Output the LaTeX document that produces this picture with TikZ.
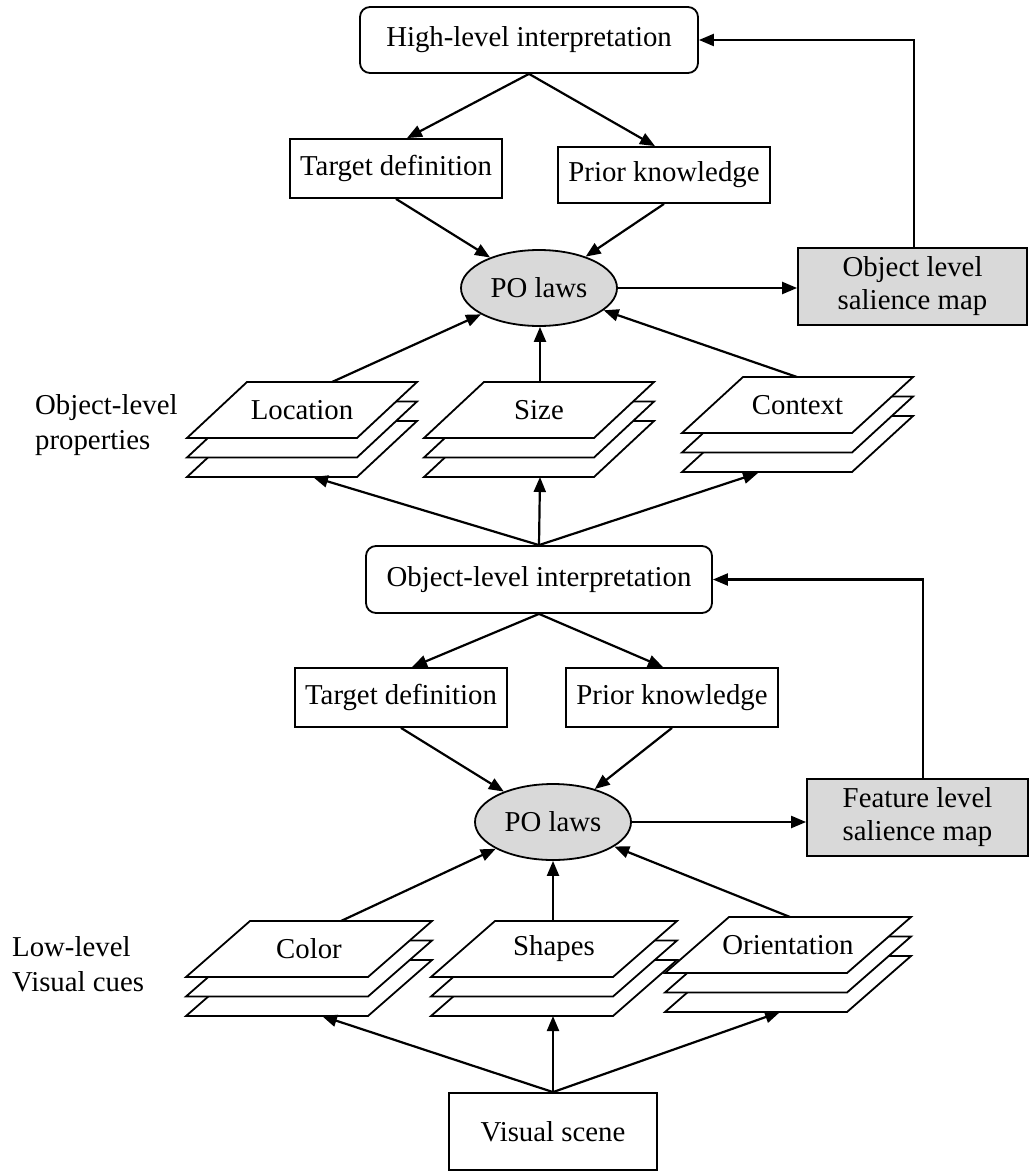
\documentclass[tikz,border=0pt]{standalone}
\usepackage{fontspec}
\setmainfont{Liberation Serif}
\usetikzlibrary{shapes.geometric,arrows.meta}
\definecolor{boxgray}{RGB}{217,217,217}

% three stacked parallelogram layers with a label on the top one
% #1 label node name, #2 left x of top edge, #3 top y, #4 edge length, #5 skew, #6 text
\newcommand\layerstack[6]{%
  \foreach \d in {39,19.5,0}
    \draw[layer] (#2,#3+\d) -- ++(#4,0) -- ++(-#5,56) -- ++(-#4,0) -- cycle;
  \node[plain] (#1) at ({#2+#4/2-#5/2},{#3+28}) {#6};
}

\begin{document}
\begin{tikzpicture}[x=1pt,y=-1pt,
  every node/.style={font=\fontsize{28.8}{33}\selectfont},
  plain/.style={inner sep=0pt},
  sqbox/.style={draw, line width=1.8pt, inner sep=0pt, align=center},
  rbox/.style={sqbox, rounded corners=10pt},
  graybox/.style={sqbox, fill=boxgray},
  law/.style={draw, ellipse, line width=1.8pt, fill=boxgray, inner sep=0pt,
    minimum width=156pt, minimum height=76pt},
  layer/.style={draw, fill=white, line width=1.8pt, line join=miter},
  arr/.style={line width=2.2pt, -{Triangle[length=15pt,width=12pt]}},
  side/.style={inner sep=0pt, align=left, anchor=west,
    font=\fontsize{28.8}{35}\selectfont}
]
\useasboundingbox (0,0) rectangle (1029,1172);

% ---------- upper level ----------
\node[rbox, minimum width=338pt, minimum height=66pt] (hi) at (529,40) {High-level interpretation};
\node[sqbox, minimum width=212pt, minimum height=59pt] (td1) at (396,168.5) {Target definition};
\node[sqbox, minimum width=212pt, minimum height=56pt] (pk1) at (664,175) {Prior knowledge};
\node[law] (po1) at (539,288) {PO laws};
\node[graybox, minimum width=229pt, minimum height=77pt] (osm) at (912.5,286.5) {Object level\\salience map};

\layerstack{loc}{247}{382}{170}{60}{Location}
\layerstack{size}{484}{382}{170}{60}{Size}
\layerstack{ctx}{743}{377}{170}{61}{Context}

\node[side] (olp) at (35,425) {Object-level\\properties};

\coordinate (loc-top) at (332,382);
\coordinate (size-top) at (540,382);
\coordinate (ctx-top) at (797,377);
\coordinate (loc-bot) at (313,477);
\coordinate (size-bot) at (540,477);
\coordinate (ctx-bot) at (758,473);

% ---------- lower level ----------
\node[rbox, minimum width=346pt, minimum height=67pt] (oli) at (539,579.5) {Object-level interpretation};
\node[sqbox, minimum width=212pt, minimum height=59pt] (td2) at (401,697.5) {Target definition};
\node[sqbox, minimum width=212pt, minimum height=59pt] (pk2) at (672,697.5) {Prior knowledge};
\node[law] (po2) at (553,822) {PO laws};
\node[graybox, minimum width=221pt, minimum height=77pt] (fsm) at (917.5,817.5) {Feature level\\salience map};

\layerstack{col}{250}{921}{182}{64}{Color}
\layerstack{shp}{495}{921}{182}{64}{Shapes}
\layerstack{ori}{729}{917}{182}{64}{Orientation}

\node[side] (llv) at (12,964) {Low-level\\Visual cues};

\node[sqbox, minimum width=208pt, minimum height=77pt] (vs) at (553,1131.5) {Visual scene};

\coordinate (col-top) at (341,921);
\coordinate (shp-top) at (553,921);
\coordinate (ori-top) at (790,917);
\coordinate (col-bot) at (322,1016);
\coordinate (shp-bot) at (553,1016);
\coordinate (ori-bot) at (780,1012);

% ---------- connectors ----------
\draw[arr] (hi.south) -- ([xshift=11pt]td1.north);
\draw[arr] (hi.south) -- ([xshift=-9pt]pk1.north);
\draw[arr] (td1.south) -- (po1);
\draw[arr] (pk1.south) -- (po1);
\draw[arr] (loc-top) -- (po1);
\draw[arr] (size-top) -- (size-top |- po1.south);
\draw[arr] (ctx-top) -- (po1);
\draw[arr] (po1.east) -- (po1.east -| osm.west);
\draw[arr] ([xshift=1.5pt]osm.north) |- (hi.east);
\draw[arr] (oli.north) -- (loc-bot);
\draw[arr] (oli.north) -- (size-bot);
\draw[arr] (oli.north) -- (ctx-bot);

\draw[arr] (oli.south) -- ([xshift=11pt]td2.north);
\draw[arr] (oli.south) -- ([xshift=-9pt]pk2.north);
\draw[arr] (td2.south) -- (po2);
\draw[arr] (pk2.south) -- (po2);
\draw[arr] (col-top) -- (po2);
\draw[arr] (shp-top) -- (shp-top |- po2.south);
\draw[arr] (ori-top) -- (po2);
\draw[arr] (po2.east) -- (po2.east -| fsm.west);
\draw[arr] ([xshift=5.5pt]fsm.north) |- (oli.east);
\draw[arr] (vs.north) -- (col-bot);
\draw[arr] (vs.north) -- (shp-bot);
\draw[arr] (vs.north) -- (ori-bot);
\end{tikzpicture}
\end{document}
